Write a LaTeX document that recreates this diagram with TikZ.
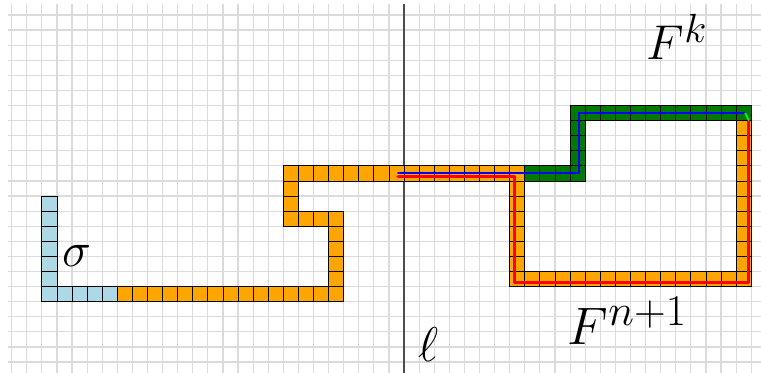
\documentclass[tikz,border=0pt]{standalone}
\usepackage{tikz}
\definecolor{pathorange}{HTML}{FFA500}
\definecolor{sigmablue}{HTML}{ADD8E6}
\definecolor{fkgreen}{HTML}{007A00}
\definecolor{linkgreen}{HTML}{22DD22}

\begin{document}
\begin{tikzpicture}[
  x=0.5cm, y=-0.5cm,
  gridline/.style={draw=black!14, line width=1.1pt},
  ellline/.style={draw=black!70, line width=1.2pt},
  cellbox/.style={draw=black, line width=0.8pt},
  redpath/.style={draw=red, line width=3pt, line cap=round, line join=round},
  bluepath/.style={draw=blue, line width=1.9pt, line cap=round, line join=round},
  biglabel/.style={inner sep=0pt, font=\Huge, scale=1.85}
]
\useasboundingbox (-0.775,-0.99) rectangle (49.65,23.72);
% background grid
\foreach \i in {0,...,49} \draw[gridline] (\i,-0.73) -- (\i,23.72);
\foreach \j in {0,...,23} \draw[gridline] (-0.25,\j) -- (49.65,\j);
% the line l
\draw[ellline] (26,-0.73) -- (26,23.72);
% sigma
\foreach \j in {12,...,18} \draw[cellbox, fill=sigmablue] (2,\j) rectangle ++(1,1);
\foreach \i in {3,...,6} \draw[cellbox, fill=sigmablue] (\i,18) rectangle ++(1,1);
% F^{n+1}
\foreach \i in {7,...,21} \draw[cellbox, fill=pathorange] (\i,18) rectangle ++(1,1);
\foreach \j in {13,...,17} \draw[cellbox, fill=pathorange] (21,\j) rectangle ++(1,1);
\foreach \i in {18,...,20} \draw[cellbox, fill=pathorange] (\i,13) rectangle ++(1,1);
\foreach \j in {10,...,12} \draw[cellbox, fill=pathorange] (18,\j) rectangle ++(1,1);
\foreach \i in {19,...,33} \draw[cellbox, fill=pathorange] (\i,10) rectangle ++(1,1);
\foreach \j in {11,...,17} \draw[cellbox, fill=pathorange] (33,\j) rectangle ++(1,1);
\foreach \i in {34,...,48} \draw[cellbox, fill=pathorange] (\i,17) rectangle ++(1,1);
\foreach \j in {7,...,16} \draw[cellbox, fill=pathorange] (48,\j) rectangle ++(1,1);
% F^k
\foreach \i in {34,...,37} \draw[cellbox, fill=fkgreen] (\i,10) rectangle ++(1,1);
\foreach \j in {6,...,9} \draw[cellbox, fill=fkgreen] (37,\j) rectangle ++(1,1);
\foreach \i in {38,...,48} \draw[cellbox, fill=fkgreen] (\i,6) rectangle ++(1,1);
% walks
\coordinate (start) at (25.6,10.5);
\coordinate (redstart) at (25.6,10.72);
\coordinate (blueend) at (48.6,6.5);
\coordinate (redend) at (48.8,7.05);
\draw[redpath] (redstart) -- (33.3,10.72) -- (33.3,17.75) -- (48.8,17.75) -- (redend);
\draw[bluepath] (start) -- (37.6,10.5) -- (37.6,6.5) -- (blueend);
\draw[draw=linkgreen, line width=1.9pt] (blueend) -- (48.85,7.0);
% labels
\node[biglabel] (sigma) at (4.33,15.97) {$\sigma$};
\node[biglabel] (ell) at (27.65,21.87) {$\ell$};
\node[biglabel] (fk) at (44.09,1.46) {$F^k$};
\node[biglabel, scale=1.08] (fn) at (40.8,20.25) {$F^{n+1}$};
\end{tikzpicture}
\end{document}
